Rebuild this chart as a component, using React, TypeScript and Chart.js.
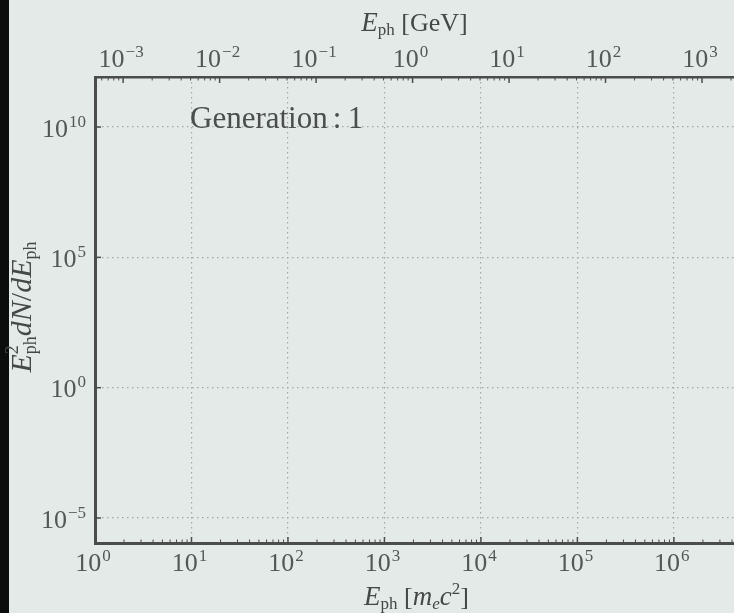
import React, { useEffect, useRef } from "react";
import { Chart, registerables } from "chart.js";

Chart.register(...registerables);

// ---- data / axis definitions ----
const X_MIN = 1;
const X_MAX = 4.2e6;
const Y_MIN = 1.1e-6;
const Y_MAX = 8.3e11;
const ME_C2_GEV = 5.11e-4; // electron rest energy in GeV (top axis conversion)

const X_TICKS = [1, 10, 100, 1e3, 1e4, 1e5, 1e6];
const X_TICK_EXP = ["0", "1", "2", "3", "4", "5", "6"];
const X2_TICKS = [1e-3, 1e-2, 1e-1, 1, 10, 100, 1000];
const X2_TICK_EXP = ["\u22123", "\u22122", "\u22121", "0", "1", "2", "3"];
const Y_TICKS = [1e-5, 1, 1e5, 1e10];
const Y_TICK_EXP = ["\u22125", "0", "5", "10"];
const MINOR_MULT = [2, 3, 4, 5, 6, 7, 8, 9];

// empty spectrum for generation 1
const SPEC_E: number[] = [];
const SPEC_F: number[] = [];

const ANNOT_WORD = "Generation";
const ANNOT_NUM = "1";

const SERIF = '"Liberation Serif", "Times New Roman", serif';
const BG = "#e4eae8";
const TXT = "#535857";
const AXIS = "#4a4d4c";
const GRID = "#a3a8a7";

type Run = { t: string; it?: boolean; size: number; dy?: number; stay?: boolean };

function font(size: number, it?: boolean) {
  return `${it ? "italic " : ""}${size}px ${SERIF}`;
}

function drawRuns(ctx: CanvasRenderingContext2D, runs: Run[], cx: number, baseline: number, color: string) {
  ctx.save();
  ctx.textAlign = "left";
  ctx.textBaseline = "alphabetic";
  ctx.fillStyle = color;
  let total = 0;
  const widths = runs.map((r) => {
    ctx.font = font(r.size, r.it);
    return ctx.measureText(r.t).width;
  });
  runs.forEach((r, i) => {
    if (!r.stay) total += widths[i];
  });
  let x = cx - total / 2;
  runs.forEach((r, i) => {
    ctx.font = font(r.size, r.it);
    ctx.fillText(r.t, x, baseline + (r.dy || 0));
    if (!r.stay) x += widths[i];
  });
  ctx.restore();
}

function drawPow(ctx: CanvasRenderingContext2D, exp: string, x: number, yMid: number, align: "center" | "right") {
  const size = 26;
  const sup = 17;
  ctx.save();
  ctx.fillStyle = TXT;
  ctx.textAlign = "left";
  ctx.textBaseline = "alphabetic";
  ctx.font = font(size);
  const wb = ctx.measureText("10").width;
  ctx.font = font(sup);
  const we = ctx.measureText(exp).width;
  const w = wb + we + 1;
  const x0 = align === "center" ? x - w / 2 : x - w;
  const base = yMid + size * 0.33;
  ctx.font = font(size);
  ctx.fillText("10", x0, base);
  ctx.font = font(sup);
  ctx.fillText(exp, x0 + wb + 1, base - 10);
  ctx.restore();
}

const decorPlugin = {
  id: "decor",
  beforeDraw(chart: any) {
    const { ctx, width, height } = chart;
    ctx.save();
    ctx.fillStyle = BG;
    ctx.fillRect(0, 0, width, height);
    ctx.fillStyle = "#0b0d0c";
    ctx.fillRect(0, 0, 9, height);
    ctx.restore();
  },
  afterDraw(chart: any) {
    const { ctx, chartArea } = chart;
    const xs = chart.scales.x;
    const x2 = chart.scales.x2;
    const ys = chart.scales.y;
    const { left, right, top, bottom } = chartArea;

    ctx.save();
    ctx.strokeStyle = AXIS;
    // bottom axis ticks (inward)
    X_TICKS.forEach((v) => {
      const px = xs.getPixelForValue(v);
      ctx.lineWidth = 1.5;
      ctx.beginPath();
      ctx.moveTo(px, bottom);
      ctx.lineTo(px, bottom - 6);
      ctx.stroke();
      MINOR_MULT.forEach((m) => {
        const mv = v * m;
        if (mv > X_MAX) return;
        const mp = xs.getPixelForValue(mv);
        ctx.lineWidth = 1;
        ctx.beginPath();
        ctx.moveTo(mp, bottom);
        ctx.lineTo(mp, bottom - 3.5);
        ctx.stroke();
      });
    });
    // top axis ticks
    const x2min = X_MIN * ME_C2_GEV;
    const x2max = X_MAX * ME_C2_GEV;
    [1e-4, ...X2_TICKS].forEach((v) => {
      const px = x2.getPixelForValue(v);
      if (v >= x2min && v <= x2max) {
        ctx.lineWidth = 1.5;
        ctx.beginPath();
        ctx.moveTo(px, top);
        ctx.lineTo(px, top + 6);
        ctx.stroke();
      }
      MINOR_MULT.forEach((m) => {
        const mv = v * m;
        if (mv < x2min || mv > x2max) return;
        const mp = x2.getPixelForValue(mv);
        ctx.lineWidth = 1;
        ctx.beginPath();
        ctx.moveTo(mp, top);
        ctx.lineTo(mp, top + 3.5);
        ctx.stroke();
      });
    });
    // left ticks
    Y_TICKS.forEach((v) => {
      const py = ys.getPixelForValue(v);
      ctx.lineWidth = 1.5;
      ctx.beginPath();
      ctx.moveTo(left, py);
      ctx.lineTo(left + 6, py);
      ctx.stroke();
    });
    ctx.restore();

    // tick labels
    X_TICKS.forEach((v, i) => drawPow(ctx, X_TICK_EXP[i], xs.getPixelForValue(v) - 2, bottom + 19, "center"));
    X2_TICKS.forEach((v, i) => drawPow(ctx, X2_TICK_EXP[i], x2.getPixelForValue(v) - 2, top - 19, "center"));
    Y_TICKS.forEach((v, i) => drawPow(ctx, Y_TICK_EXP[i], left - 9, ys.getPixelForValue(v) + 1, "right"));

    // axis titles
    const cx = (left + right) / 2;
    drawRuns(
      ctx,
      [
        { t: "E", it: true, size: 27 },
        { t: "ph", size: 17, dy: 4 },
        { t: " [GeV]", size: 26 },
      ],
      cx,
      top - 46,
      "#444847"
    );
    drawRuns(
      ctx,
      [
        { t: "E", it: true, size: 27 },
        { t: "ph", size: 17, dy: 4 },
        { t: " [", size: 26 },
        { t: "m", it: true, size: 27 },
        { t: "e", it: true, size: 17, dy: 4 },
        { t: "c", it: true, size: 27 },
        { t: "2", size: 17, dy: -11 },
        { t: "]", size: 26 },
      ],
      cx + 2,
      bottom + 62,
      "#444847"
    );
    ctx.save();
    ctx.translate(31, (top + bottom) / 2 - 3);
    ctx.rotate(-Math.PI / 2);
    drawRuns(
      ctx,
      [
        { t: "E", it: true, size: 30 },
        { t: "2", size: 18, dy: -13, stay: true },
        { t: "ph", size: 18, dy: 5 },
        { t: "dN", it: true, size: 30 },
        { t: "/", size: 30 },
        { t: "dE", it: true, size: 30 },
        { t: "ph", size: 18, dy: 5 },
      ],
      0,
      0,
      "#444847"
    );
    ctx.restore();

    // annotation
    ctx.save();
    ctx.fillStyle = "#4a4e4d";
    ctx.textAlign = "left";
    ctx.textBaseline = "alphabetic";
    ctx.font = font(31);
    const ax = left + 95;
    const ay = top + 51;
    ctx.fillText(ANNOT_WORD, ax, ay);
    const ww = ctx.measureText(ANNOT_WORD).width;
    ctx.fillText(":", ax + ww + 5, ay);
    ctx.fillText(ANNOT_NUM, ax + ww + 20, ay);
    ctx.restore();
  },
};

export default function App() {
  const ref = useRef<HTMLCanvasElement | null>(null);
  useEffect(() => {
    if (!ref.current) return;
    const chart = new Chart(ref.current, {
      type: "scatter",
      data: {
        datasets: [
          {
            label: "Generation 1",
            data: SPEC_E.map((e, i) => ({ x: e, y: SPEC_F[i] })),
            borderColor: "#1f77b4",
            showLine: true,
            pointRadius: 0,
          },
        ],
      },
      options: {
        responsive: false,
        animation: false,
        devicePixelRatio: 1,
        layout: { padding: 0 },
        plugins: { legend: { display: false }, tooltip: { enabled: false } },
        scales: {
          x: {
            type: "logarithmic",
            position: "bottom",
            min: X_MIN,
            max: X_MAX,
            afterBuildTicks: (s: any) => {
              s.ticks = X_TICKS.map((v) => ({ value: v }));
            },
            afterFit: (s: any) => {
              s.height = 70;
            },
            ticks: { display: false },
            grid: { display: true, drawTicks: false, color: GRID, lineWidth: 1.2 },
            border: { display: true, color: AXIS, width: 3, dash: [1.5, 3.5] },
          },
          x2: {
            type: "logarithmic",
            position: "top",
            min: X_MIN * ME_C2_GEV,
            max: X_MAX * ME_C2_GEV,
            afterBuildTicks: (s: any) => {
              s.ticks = X2_TICKS.map((v) => ({ value: v }));
            },
            afterFit: (s: any) => {
              s.height = 77;
            },
            ticks: { display: false },
            grid: { display: true, drawOnChartArea: false, drawTicks: false },
            border: { display: true, color: AXIS, width: 2.5 },
          },
          y: {
            type: "logarithmic",
            position: "left",
            min: Y_MIN,
            max: Y_MAX,
            afterBuildTicks: (s: any) => {
              s.ticks = Y_TICKS.map((v) => ({ value: v }));
            },
            afterFit: (s: any) => {
              s.width = 95;
            },
            ticks: { display: false },
            grid: { display: true, drawTicks: false, color: GRID, lineWidth: 1.2 },
            border: { display: true, color: AXIS, width: 3, dash: [1.5, 3.5] },
          },
        },
      } as any,
      plugins: [decorPlugin],
    });
    return () => chart.destroy();
  }, []);

  return (
    <div style={{ position: "fixed", left: 0, top: 0, width: 734, height: 613, background: BG, overflow: "hidden" }}>
      <canvas ref={ref} width={734} height={613} style={{ display: "block" }} />
    </div>
  );
}
